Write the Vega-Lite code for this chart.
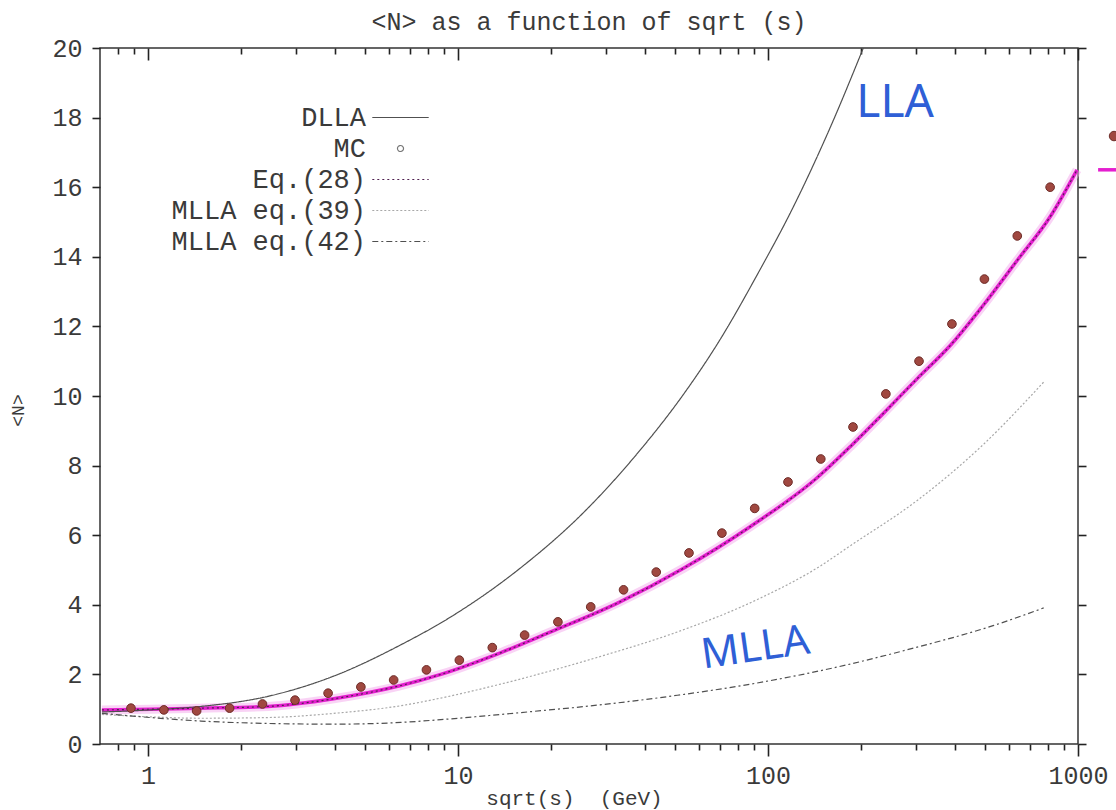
{
  "$schema": "https://vega.github.io/schema/vega-lite/v6.json",
  "width": 978,
  "height": 696,
  "autosize": {"type": "none"},
  "padding": {"left": 100, "top": 48, "right": 38, "bottom": 66},
  "background": "white",
  "title": {"text": "<N> as a function of sqrt (s)", "font": "Liberation Mono", "fontSize": 25, "fontWeight": "normal", "color": "#3a3a3a", "offset": 1, "anchor": "middle"},
  "config": {"view": {"stroke": "#333333", "strokeWidth": 1.5}, "axis": {"grid": false, "domain": false, "ticks": true, "zindex": 1, "tickColor": "#222222", "tickWidth": 1.6, "tickOpacity": 1}},
  "datasets": {
    "curves": [
      {"s": 0.71, "n": 0.92, "series": "DLLA"},
      {"s": 1.02, "n": 0.98, "series": "DLLA"},
      {"s": 1.48, "n": 1.08, "series": "DLLA"},
      {"s": 2.44, "n": 1.37, "series": "DLLA"},
      {"s": 3.97, "n": 1.95, "series": "DLLA"},
      {"s": 6.54, "n": 2.85, "series": "DLLA"},
      {"s": 9.47, "n": 3.65, "series": "DLLA"},
      {"s": 15.6, "n": 5.0, "series": "DLLA"},
      {"s": 25.4, "n": 6.65, "series": "DLLA"},
      {"s": 37.9, "n": 8.35, "series": "DLLA"},
      {"s": 53.4, "n": 10.05, "series": "DLLA"},
      {"s": 68.7, "n": 11.5, "series": "DLLA"},
      {"s": 94.5, "n": 13.65, "series": "DLLA"},
      {"s": 118, "n": 15.26, "series": "DLLA"},
      {"s": 159, "n": 17.73, "series": "DLLA"},
      {"s": 203, "n": 20, "series": "DLLA"},
      {"s": 0.71, "n": 0.98, "series": "Eq.(28)"},
      {"s": 1.02, "n": 1.0, "series": "Eq.(28)"},
      {"s": 1.48, "n": 1.03, "series": "Eq.(28)"},
      {"s": 2.44, "n": 1.08, "series": "Eq.(28)"},
      {"s": 3.97, "n": 1.3, "series": "Eq.(28)"},
      {"s": 6.54, "n": 1.68, "series": "Eq.(28)"},
      {"s": 8.8, "n": 2.0, "series": "Eq.(28)"},
      {"s": 13.7, "n": 2.62, "series": "Eq.(28)"},
      {"s": 19.9, "n": 3.22, "series": "Eq.(28)"},
      {"s": 32.7, "n": 4.05, "series": "Eq.(28)"},
      {"s": 53.4, "n": 5.05, "series": "Eq.(28)"},
      {"s": 87.8, "n": 6.25, "series": "Eq.(28)"},
      {"s": 144, "n": 7.65, "series": "Eq.(28)"},
      {"s": 184.5, "n": 8.55, "series": "Eq.(28)"},
      {"s": 235.5, "n": 9.5, "series": "Eq.(28)"},
      {"s": 303, "n": 10.5, "series": "Eq.(28)"},
      {"s": 387, "n": 11.45, "series": "Eq.(28)"},
      {"s": 494, "n": 12.6, "series": "Eq.(28)"},
      {"s": 637, "n": 13.9, "series": "Eq.(28)"},
      {"s": 813, "n": 15.15, "series": "Eq.(28)"},
      {"s": 993, "n": 16.5, "series": "Eq.(28)"},
      {"s": 0.71, "n": 0.85, "series": "MLLA eq.(39)"},
      {"s": 1.02, "n": 0.78, "series": "MLLA eq.(39)"},
      {"s": 1.48, "n": 0.74, "series": "MLLA eq.(39)"},
      {"s": 2.44, "n": 0.76, "series": "MLLA eq.(39)"},
      {"s": 3.97, "n": 0.88, "series": "MLLA eq.(39)"},
      {"s": 6.54, "n": 1.1, "series": "MLLA eq.(39)"},
      {"s": 8.8, "n": 1.32, "series": "MLLA eq.(39)"},
      {"s": 13.7, "n": 1.72, "series": "MLLA eq.(39)"},
      {"s": 28.4, "n": 2.5, "series": "MLLA eq.(39)"},
      {"s": 51, "n": 3.22, "series": "MLLA eq.(39)"},
      {"s": 91.8, "n": 4.14, "series": "MLLA eq.(39)"},
      {"s": 146.6, "n": 5.1, "series": "MLLA eq.(39)"},
      {"s": 184.5, "n": 5.7, "series": "MLLA eq.(39)"},
      {"s": 303, "n": 7.0, "series": "MLLA eq.(39)"},
      {"s": 494, "n": 8.6, "series": "MLLA eq.(39)"},
      {"s": 775, "n": 10.4, "series": "MLLA eq.(39)"},
      {"s": 0.71, "n": 0.88, "series": "MLLA eq.(42)"},
      {"s": 1.02, "n": 0.76, "series": "MLLA eq.(42)"},
      {"s": 1.48, "n": 0.66, "series": "MLLA eq.(42)"},
      {"s": 2.44, "n": 0.59, "series": "MLLA eq.(42)"},
      {"s": 3.97, "n": 0.57, "series": "MLLA eq.(42)"},
      {"s": 6.54, "n": 0.62, "series": "MLLA eq.(42)"},
      {"s": 8.8, "n": 0.7, "series": "MLLA eq.(42)"},
      {"s": 15.8, "n": 0.9, "series": "MLLA eq.(42)"},
      {"s": 28.4, "n": 1.12, "series": "MLLA eq.(42)"},
      {"s": 51, "n": 1.4, "series": "MLLA eq.(42)"},
      {"s": 91.8, "n": 1.75, "series": "MLLA eq.(42)"},
      {"s": 165, "n": 2.2, "series": "MLLA eq.(42)"},
      {"s": 296, "n": 2.76, "series": "MLLA eq.(42)"},
      {"s": 532, "n": 3.4, "series": "MLLA eq.(42)"},
      {"s": 775, "n": 3.91, "series": "MLLA eq.(42)"}
    ],
    "mc": [
      {"s": 0.881, "n": 1.03}, {"s": 1.125, "n": 0.98}, {"s": 1.435, "n": 0.95}, {"s": 1.833, "n": 1.03},
      {"s": 2.34, "n": 1.15}, {"s": 2.98, "n": 1.26}, {"s": 3.81, "n": 1.46}, {"s": 4.86, "n": 1.64},
      {"s": 6.2, "n": 1.84}, {"s": 7.91, "n": 2.13}, {"s": 10.1, "n": 2.41}, {"s": 12.9, "n": 2.77},
      {"s": 16.4, "n": 3.13}, {"s": 21.0, "n": 3.51}, {"s": 26.8, "n": 3.94}, {"s": 34.2, "n": 4.43},
      {"s": 43.6, "n": 4.94}, {"s": 55.6, "n": 5.49}, {"s": 71.0, "n": 6.06}, {"s": 90.6, "n": 6.77},
      {"s": 116, "n": 7.53}, {"s": 148, "n": 8.19}, {"s": 188, "n": 9.11}, {"s": 240, "n": 10.06},
      {"s": 307, "n": 11.0}, {"s": 392, "n": 12.07}, {"s": 499, "n": 13.36}, {"s": 637, "n": 14.6},
      {"s": 813, "n": 16.0}
    ],
    "extra": [{"s": 1307, "n": 17.47}],
    "stub": [{"s": 1161, "n": 16.5}, {"s": 1327, "n": 16.5}],
    "notes": [
      {"s": 257, "n": 18.42, "label": "LLA"},
      {"s": 91, "n": 2.76, "label": "MLLA"}
    ]
  },
  "resolve": {"axis": {"x": "independent", "y": "independent"}},
  "layer": [
    {
      "data": {"name": "curves"},
      "transform": [{"filter": "datum.series === 'Eq.(28)'"}],
      "mark": {"type": "line", "color": "#f4a8ec", "strokeWidth": 9, "opacity": 0.5, "interpolate": "monotone", "clip": false},
      "encoding": {
        "x": {"field": "s", "type": "quantitative", "scale": {"type": "log", "domain": [0.7, 1000], "nice": false},
          "axis": {"orient": "bottom", "values": [0.8,0.9,1,2,3,4,5,6,7,8,9,10,20,30,40,50,60,70,80,90,100,200,300,400,500,600,700,800,900,1000],
            "labelExpr": "(datum.value == 1 || datum.value == 10 || datum.value == 100 || datum.value == 1000) ? format(datum.value, 'd') : ''",
            "labelFont": "Liberation Mono", "labelFontSize": 25, "labelColor": "#3a3a3a", "labelPadding": 7, "labelOverlap": false, "labelFlush": false, "labelBound": false,
            "ticks": true, "tickSize": {"condition": {"test": "datum.value == 1 || datum.value == 10 || datum.value == 100 || datum.value == 1000", "value": 12}, "value": 6},
            "title": "sqrt(s) \u00a0(GeV)", "titleFont": "Liberation Mono", "titleFontSize": 21, "titleFontWeight": "normal", "titleColor": "#3a3a3a",
            "titleX": 474, "titleY": 60, "titleBaseline": "alphabetic", "titleAlign": "center"}},
        "y": {"field": "n", "type": "quantitative", "scale": {"domain": [0, 20], "nice": false},
          "axis": {"orient": "left", "values": [0,2,4,6,8,10,12,14,16,18,20], "ticks": true, "tickSize": 8,
            "labelFont": "Liberation Mono", "labelFontSize": 25, "labelColor": "#3a3a3a", "labelPadding": 10, "labelFlush": false, "labelOverlap": false, "labelBound": false,
            "title": "<N>", "titleFont": "Liberation Mono", "titleFontSize": 18, "titleFontWeight": "normal", "titleColor": "#3a3a3a",
            "titleAngle": -90, "titleX": -82, "titleY": 362, "titleAlign": "center", "titleBaseline": "middle"}}
      }
    },
    {
      "data": {"name": "curves"},
      "transform": [{"filter": "datum.series === 'Eq.(28)'"}],
      "mark": {"type": "line", "color": "#e41ecf", "strokeWidth": 3.5, "interpolate": "monotone", "clip": false},
      "encoding": {
        "x": {"field": "s", "type": "quantitative",
          "axis": {"orient": "top", "offset": -12, "values": [0.8,0.9,1,2,3,4,5,6,7,8,9,10,20,30,40,50,60,70,80,90,100,200,300,400,500,600,700,800,900,1000],
            "labels": false, "title": null, "ticks": true, "tickSize": 12,
            "tickDash": {"condition": {"test": "datum.value == 1 || datum.value == 10 || datum.value == 100 || datum.value == 1000", "value": [12, 0]}, "value": [0, 6, 6, 0]}}},
        "y": {"field": "n", "type": "quantitative",
          "axis": {"orient": "right", "values": [0,2,4,6,8,10,12,14,16,18,20], "labels": false, "title": null, "ticks": true, "tickSize": 8}}
      }
    },
    {
      "data": {"name": "stub"},
      "mark": {"type": "line", "color": "#e41ecf", "strokeWidth": 3.5, "clip": false},
      "encoding": {
        "x": {"field": "s", "type": "quantitative", "axis": null},
        "y": {"field": "n", "type": "quantitative", "axis": null}
      }
    },
    {
      "data": {"name": "curves"},
      "mark": {"type": "line", "strokeWidth": 1.2, "interpolate": "monotone", "clip": false},
      "encoding": {
        "x": {"field": "s", "type": "quantitative", "axis": null},
        "y": {"field": "n", "type": "quantitative", "axis": null},
        "color": {"field": "series", "type": "nominal",
          "scale": {"domain": ["DLLA", "MC", "Eq.(28)", "MLLA eq.(39)", "MLLA eq.(42)"], "range": ["#505050", "#777777", "#502050", "#a8a8a8", "#505050"]},
          "legend": {"orient": "none", "legendX": 287, "legendY": 56, "title": null, "padding": 0,
            "labelFont": "Liberation Mono", "labelFontSize": 27, "labelColor": "#3a3a3a", "labelAlign": "right", "labelOffset": -48, "labelLimit": 400,
            "symbolType": "M-4.7,0H4.7", "symbolSize": 144, "symbolStrokeWidth": 1.2, "rowPadding": 3,
            "encode": {"symbols": {"update": {
              "shape": {"signal": "datum.value === 'MC' ? 'circle' : 'M-4.7,0H4.7'"},
              "size": {"signal": "datum.value === 'MC' ? 36 : 144"},
              "fill": {"value": "transparent"}
            }}}}},
        "strokeDash": {"field": "series", "type": "nominal",
          "scale": {"domain": ["DLLA", "MC", "Eq.(28)", "MLLA eq.(39)", "MLLA eq.(42)"], "range": [[1, 0], [1, 0], [2, 3], [2, 2], [6, 3, 2, 3]]},
          "legend": {"orient": "none", "legendX": 287, "legendY": 56, "title": null, "padding": 0,
            "labelFont": "Liberation Mono", "labelFontSize": 27, "labelColor": "#3a3a3a", "labelAlign": "right", "labelOffset": -48, "labelLimit": 400,
            "symbolType": "M-4.7,0H4.7", "symbolSize": 144, "symbolStrokeWidth": 1.2, "rowPadding": 3,
            "encode": {"symbols": {"update": {
              "shape": {"signal": "datum.value === 'MC' ? 'circle' : 'M-4.7,0H4.7'"},
              "size": {"signal": "datum.value === 'MC' ? 36 : 144"},
              "fill": {"value": "transparent"}
            }}}}}
      }
    },
    {
      "data": {"name": "mc"},
      "mark": {"type": "point", "shape": "circle", "filled": true, "size": 75, "color": "#a04840", "stroke": "#6e2c28", "strokeWidth": 1, "opacity": 1, "clip": false},
      "encoding": {
        "x": {"field": "s", "type": "quantitative", "axis": null},
        "y": {"field": "n", "type": "quantitative", "axis": null}
      }
    },
    {
      "data": {"name": "extra"},
      "mark": {"type": "point", "shape": "circle", "filled": true, "size": 90, "color": "#a04840", "stroke": "#6e2c28", "strokeWidth": 1, "opacity": 1, "clip": false},
      "encoding": {
        "x": {"field": "s", "type": "quantitative", "axis": null},
        "y": {"field": "n", "type": "quantitative", "axis": null}
      }
    },
    {
      "data": {"name": "notes"},
      "transform": [{"filter": "datum.label === 'LLA'"}],
      "mark": {"type": "text", "font": "Noto Sans", "fontSize": 46, "color": "#2f5fd6", "align": "center", "baseline": "middle"},
      "encoding": {
        "x": {"field": "s", "type": "quantitative", "axis": null},
        "y": {"field": "n", "type": "quantitative", "axis": null},
        "text": {"field": "label"}
      }
    },
    {
      "data": {"name": "notes"},
      "transform": [{"filter": "datum.label === 'MLLA'"}],
      "mark": {"type": "text", "font": "Noto Sans", "fontSize": 42, "color": "#2f5fd6", "align": "center", "baseline": "middle", "angle": 352},
      "encoding": {
        "x": {"field": "s", "type": "quantitative", "axis": null},
        "y": {"field": "n", "type": "quantitative", "axis": null},
        "text": {"field": "label"}
      }
    }
  ]
}
